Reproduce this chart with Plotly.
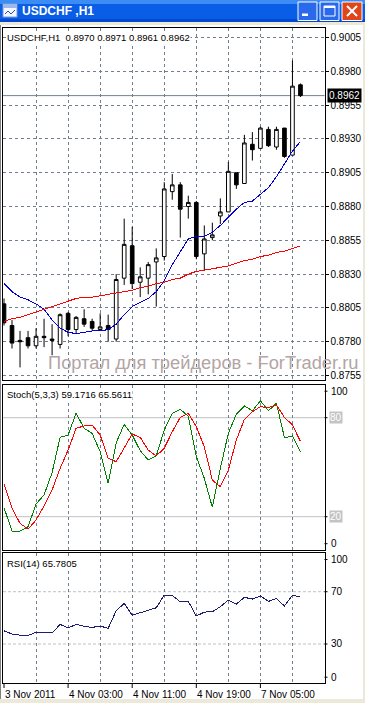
import plotly.graph_objects as go

W, H = 365, 703

# ---------------- data ----------------
bar_index = list(range(38))
opens = [0.8808, 0.8792, 0.8781, 0.8783, 0.8777, 0.8784, 0.8782, 0.8778, 0.8801, 0.8789,
         0.8797, 0.8795, 0.8789, 0.8792, 0.8782, 0.8827, 0.8851, 0.8824, 0.8827, 0.8839,
         0.8843, 0.8891, 0.8896, 0.8880, 0.8883, 0.8845, 0.8857, 0.8873, 0.8876, 0.8905,
         0.8897, 0.8926, 0.8923, 0.8937, 0.8924, 0.8938, 0.8918, 0.8970]
highs = [0.8812, 0.8796, 0.8788, 0.8788, 0.8790, 0.8797, 0.8793, 0.8801, 0.8802, 0.8799,
         0.8804, 0.8797, 0.8801, 0.8800, 0.8830, 0.8871, 0.8865, 0.8835, 0.8839, 0.8849,
         0.8898, 0.8904, 0.8898, 0.8888, 0.8884, 0.8866, 0.8868, 0.8886, 0.8913, 0.8905,
         0.8933, 0.8935, 0.8939, 0.8939, 0.8939, 0.8938, 0.8988, 0.8971]
lows = [0.8792, 0.8775, 0.8761, 0.8775, 0.8775, 0.8776, 0.8770, 0.8775, 0.8784, 0.8786,
        0.8791, 0.8788, 0.8788, 0.8780, 0.8780, 0.8822, 0.8819, 0.8813, 0.8815, 0.8806,
        0.8840, 0.8885, 0.8857, 0.8871, 0.8841, 0.8833, 0.8855, 0.8867, 0.8876, 0.8893,
        0.8897, 0.8914, 0.8923, 0.8924, 0.8922, 0.8916, 0.8918, 0.8961]
closes = [0.8794, 0.8779, 0.8780, 0.8777, 0.8784, 0.8783, 0.8781, 0.8800, 0.8789, 0.8798,
          0.8793, 0.8790, 0.8791, 0.8789, 0.8826, 0.8852, 0.8823, 0.8828, 0.8837, 0.8842,
          0.8893, 0.8896, 0.8878, 0.8883, 0.8843, 0.8856, 0.8859, 0.8876, 0.8906, 0.8896,
          0.8927, 0.8922, 0.8938, 0.8925, 0.8937, 0.8917, 0.8969, 0.8962]
ma_fast = [0.8823, 0.8817, 0.8813, 0.8811, 0.8808, 0.8804, 0.8796, 0.8790, 0.8787, 0.8786,
           0.8787, 0.8788, 0.8788, 0.8789, 0.8793, 0.8800, 0.8806, 0.8809, 0.8812, 0.8817,
           0.8825, 0.8837, 0.8847, 0.8856, 0.8858, 0.8858, 0.8861, 0.8866, 0.8872, 0.8878,
           0.8883, 0.8884, 0.8889, 0.8894, 0.8902, 0.8911, 0.8921, 0.8928]
ma_slow = [0.8795, 0.8797, 0.8798, 0.8800, 0.8802, 0.8804, 0.8806, 0.8808, 0.8810, 0.8812,
           0.8813, 0.8813, 0.8814, 0.8815, 0.8816, 0.8817, 0.8818, 0.8820, 0.8821, 0.8823,
           0.8824, 0.8826, 0.8827, 0.8830, 0.8832, 0.8833, 0.8834, 0.8835, 0.8836, 0.8838,
           0.8840, 0.8841, 0.8843, 0.8844, 0.8846, 0.8847, 0.8849, 0.8851]
stoch_main = [25.5, 11.3, 11.3, 13.9, 27.7, 33.2, 46.7, 68.1, 69.5, 82.7,
              73.6, 70.5, 59.4, 40.2, 64.8, 76.0, 69.5, 60.0, 54.4, 56.8,
              72.5, 82.7, 85.1, 81.0, 56.4, 43.3, 25.7, 49.3, 70.5, 82.2,
              87.1, 84.2, 90.3, 84.2, 88.7, 67.9, 68.9, 59.17]
stoch_signal = [39.6, 25.1, 16.0, 12.4, 18.0, 26.5, 36.2, 49.3, 60.4, 73.6,
                75.0, 75.6, 69.5, 55.4, 53.3, 61.5, 70.1, 68.1, 60.4, 56.8,
                61.5, 71.5, 80.2, 82.7, 74.5, 62.4, 42.2, 38.2, 48.3, 66.5,
                79.0, 83.6, 86.7, 86.1, 87.7, 80.2, 75.6, 65.56]
rsi = [40.1, 37.6, 36.8, 36.6, 38.9, 38.8, 38.4, 45.0, 42.2, 45.0,
       43.5, 42.7, 43.7, 42.0, 55.4, 61.1, 52.1, 53.9, 56.0, 57.7,
       67.4, 67.2, 62.3, 62.6, 51.4, 54.4, 54.7, 58.5, 63.6, 60.6,
       65.7, 64.4, 66.7, 62.6, 64.9, 59.0, 67.4, 65.78]
price_ticks = [0.9005, 0.8980, 0.8955, 0.8930, 0.8905, 0.8880, 0.8855, 0.8830, 0.8805, 0.8780, 0.8755]
grid_bars = [4, 8, 12, 16, 20, 24, 28, 32, 36]
time_label_bars = [0, 8, 16, 24, 32]
time_labels = ["3 Nov 2011", "4 Nov 03:00", "4 Nov 11:00", "4 Nov 19:00", "7 Nov 05:00"]
last_price = 0.8962
symbol_title = "USDCHF ,H1"
header_main = "USDCHF,H1\u00a0\u00a00.8970\u00a00.8971\u00a00.8961\u00a00.8962"
header_stoch = "Stoch(5,3,3) 59.1716 65.5611"
header_rsi = "RSI(14) 65.7805"
watermark = "Портал для трейдеров - ForTrader.ru"

# ---------------- helpers ----------------
def px(x):
    return x / W

def py(y):
    return 1 - y / H

FONT = "Liberation Sans"
GRID = "#6F7F8F"
XDOM = [px(3), px(324.5)]
XRANGE = [-0.125, 40]

fig = go.Figure()

fig.add_trace(go.Candlestick(
    x=bar_index, open=opens, high=highs, low=lows, close=closes,
    increasing=dict(line=dict(color="black", width=1), fillcolor="white"),
    decreasing=dict(line=dict(color="black", width=1), fillcolor="black"),
    whiskerwidth=0, hoverinfo="skip", xaxis="x", yaxis="y"))
fig.add_trace(go.Scatter(x=bar_index, y=ma_fast, mode="lines",
                         line=dict(color="#0000D0", width=1), xaxis="x", yaxis="y", hoverinfo="skip"))
fig.add_trace(go.Scatter(x=bar_index, y=ma_slow, mode="lines",
                         line=dict(color="#FF0000", width=1), xaxis="x", yaxis="y", hoverinfo="skip"))
fig.add_trace(go.Scatter(x=bar_index, y=stoch_main, mode="lines",
                         line=dict(color="#008000", width=1), xaxis="x2", yaxis="y2", hoverinfo="skip"))
fig.add_trace(go.Scatter(x=bar_index, y=stoch_signal, mode="lines",
                         line=dict(color="#FF0000", width=1), xaxis="x2", yaxis="y2", hoverinfo="skip"))
fig.add_trace(go.Scatter(x=bar_index, y=rsi, mode="lines",
                         line=dict(color="#1C1C70", width=1), xaxis="x3", yaxis="y3", hoverinfo="skip"))

xcommon = dict(domain=XDOM, range=XRANGE, tickvals=grid_bars, showticklabels=False, ticks="",
               showgrid=True, gridcolor=GRID, griddash="3px,3px", gridwidth=1,
               showline=True, mirror=True, linecolor="black", linewidth=1, zeroline=False,
               fixedrange=True, automargin=False)

fig.update_layout(
    width=W, height=H, autosize=False,
    margin=dict(l=0, r=0, t=0, b=0, pad=0, autoexpand=False),
    paper_bgcolor="white", plot_bgcolor="white",
    showlegend=False, boxgap=0.35,
    xaxis=dict(anchor="y", rangeslider=dict(visible=False), **xcommon),
    xaxis2=dict(anchor="y2", **xcommon),
    xaxis3=dict(anchor="y3", **xcommon),
    yaxis=dict(domain=[py(380), py(28)], range=[0.87517, 0.90120], side="right",
               tickvals=price_ticks, ticktext=[f"{v:.4f}" for v in price_ticks],
               ticks="outside", ticklen=3, tickcolor="black",
               tickfont=dict(family=FONT, size=10, color="black"),
               showgrid=True, gridcolor=GRID, griddash="3px,3px", gridwidth=1,
               showline=True, mirror=True, linecolor="black", zeroline=False, fixedrange=True,
               automargin=False),
    yaxis2=dict(domain=[py(549.7), py(384.7)], range=[0, 100], showticklabels=False, ticks="",
                showgrid=False, showline=True, mirror=True, linecolor="black", zeroline=False,
                fixedrange=True, automargin=False),
    yaxis3=dict(domain=[py(683.2), py(552.5)], range=[0, 100], showticklabels=False, ticks="",
                showgrid=False, showline=True, mirror=True, linecolor="black", zeroline=False,
                fixedrange=True, automargin=False),
)

shapes = []
ann = []

# ---- level lines ----
shapes.append(dict(type="line", xref="paper", yref="y", x0=XDOM[0], x1=XDOM[1], y0=last_price, y1=last_price,
                   line=dict(color="#708090", width=1), layer="below"))
for lv in (20, 80):
    shapes.append(dict(type="line", xref="paper", yref="y2", x0=XDOM[0], x1=XDOM[1], y0=lv, y1=lv,
                       line=dict(color="#C0C0C0", width=1), layer="below"))
for lv in (30, 70):
    shapes.append(dict(type="line", xref="paper", yref="y3", x0=XDOM[0], x1=px(327), y0=lv, y1=lv,
                       line=dict(color="#C0C0C0", width=1, dash="3px,2px"), layer="below"))

# ---- headers ----
def header(text, y):
    ann.append(dict(text=text, xref="paper", yref="paper", x=px(6), y=py(y), xanchor="left",
                    yanchor="middle", showarrow=False, bgcolor="white", borderpad=0,
                    font=dict(family=FONT, size=9.5, color="black")))

header(header_main, 37.5)
header(header_stoch, 395)
header(header_rsi, 563)

# watermark
ann.append(dict(text=watermark, xref="paper", yref="paper", x=px(46), y=py(362), xanchor="left",
                yanchor="middle", showarrow=False,
                font=dict(family=FONT, size=18.3, color="#B2A5A5")))

# current price label
ann.append(dict(text="0.8962", xref="paper", yref="y", x=px(326.5), y=last_price, xanchor="left",
                yanchor="middle", showarrow=False, bgcolor="black", borderpad=1,
                font=dict(family=FONT, size=10, color="white")))

# ---- subpanel right labels ----
def side_label(text, yref, val, shift, boxed=False):
    d = dict(text=text, xref="paper", yref=yref, x=px(329), y=val, xanchor="left", yanchor="middle",
             yshift=shift, showarrow=False, font=dict(family=FONT, size=10,
                                                         color="white" if boxed else "black"))
    if boxed:
        d["bgcolor"] = "#C4C4C4"
        d["borderpad"] = 0
    ann.append(d)
    shapes.append(dict(type="line", xref="paper", yref=yref, ysizemode="pixel", yanchor=val,
                       x0=px(324.5), x1=px(327.5), y0=shift, y1=shift,
                       line=dict(color="black", width=1)))

side_label("100", "y2", 100, -6.5)
side_label("80", "y2", 80, 0, boxed=True)
side_label("20", "y2", 20, 0, boxed=True)
side_label("0", "y2", 0, 6)
side_label("100", "y3", 100, -7)
side_label("70", "y3", 70, 0)
side_label("30", "y3", 30, 0)
side_label("0", "y3", 0, 6)

# ---- time axis ----
for b, t in zip(time_label_bars, time_labels):
    shapes.append(dict(type="line", xref="x3", yref="paper", x0=b, x1=b, y0=py(683.5), y1=py(688),
                       line=dict(color="black", width=1)))
    ann.append(dict(text=t, xref="x3", yref="paper", x=b, y=py(694), xanchor="left", yanchor="middle",
                    xshift=-1, showarrow=False, font=dict(family=FONT, size=10, color="black")))

# ---- window chrome ----
shapes.append(dict(type="rect", xref="paper", yref="paper", x0=0, x1=1, y0=py(22), y1=1,
                   fillcolor="#0A5DE6", line=dict(width=0), layer="above"))
shapes.append(dict(type="rect", xref="paper", yref="paper", x0=0, x1=1, y0=py(4), y1=1,
                   fillcolor="#3C8CF6", line=dict(width=0), layer="above"))
shapes.append(dict(type="rect", xref="paper", yref="paper", x0=0, x1=1, y0=py(22), y1=py(19),
                   fillcolor="#0349CF", line=dict(width=0), layer="above"))
shapes.append(dict(type="rect", xref="paper", yref="paper", x0=0, x1=1, y0=py(25), y1=py(22),
                   fillcolor="#ECE9D8", line=dict(width=0), layer="above"))
shapes.append(dict(type="rect", xref="paper", yref="paper", x0=0, x1=1, y0=0, y1=py(699),
                   fillcolor="#ECE9D8", line=dict(width=0), layer="above"))
shapes.append(dict(type="rect", xref="paper", yref="paper", x0=px(363), x1=1, y0=0, y1=py(22),
                   fillcolor="#ECE9D8", line=dict(width=0), layer="above"))
shapes.append(dict(type="line", xref="paper", yref="paper", x0=px(0.5), x1=px(0.5), y0=py(699), y1=py(25),
                   line=dict(color="#808080", width=1), layer="above"))
# icon
shapes.append(dict(type="rect", xref="paper", yref="paper", x0=px(3), x1=px(17), y0=py(17), y1=py(4),
                   fillcolor="#F4F7FF", line=dict(color="#7A9BD8", width=1), layer="above"))
shapes.append(dict(type="rect", xref="paper", yref="paper", x0=px(3), x1=px(17), y0=py(8), y1=py(4),
                   fillcolor="#9DB9EB", line=dict(width=0), layer="above"))
shapes.append(dict(type="path", xref="paper", yref="paper", layer="above",
                   path=f"M {px(5)} {py(14)} L {px(8)} {py(11)} L {px(11)} {py(14)} L {px(15)} {py(10)}",
                   line=dict(color="#2050B0", width=1)))
ann.append(dict(text=f"<b>{symbol_title}</b>", xref="paper", yref="paper", x=px(20), y=py(11.5),
                xanchor="left", yanchor="middle", showarrow=False,
                font=dict(family=FONT, size=12, color="white")))
# buttons
for x0, x1, fill in ((298, 317, "#2A68EC"), (320, 339, "#2A68EC"), (342, 362, "#E0461B")):
    shapes.append(dict(type="rect", xref="paper", yref="paper", x0=px(x0), x1=px(x1), y0=py(20.5), y1=py(2),
                       fillcolor=fill, line=dict(color="white", width=1), layer="above"))
shapes.append(dict(type="rect", xref="paper", yref="paper", x0=px(302), x1=px(308), y0=py(16), y1=py(13.5),
                   fillcolor="white", line=dict(width=0), layer="above"))
shapes.append(dict(type="rect", xref="paper", yref="paper", x0=px(324), x1=px(335), y0=py(16), y1=py(6),
                   fillcolor="rgba(0,0,0,0)", line=dict(color="white", width=1), layer="above"))
shapes.append(dict(type="rect", xref="paper", yref="paper", x0=px(324), x1=px(335), y0=py(8), y1=py(6),
                   fillcolor="white", line=dict(width=0), layer="above"))
shapes.append(dict(type="line", xref="paper", yref="paper", x0=px(347), x1=px(357), y0=py(6), y1=py(16),
                   line=dict(color="white", width=2), layer="above"))
shapes.append(dict(type="line", xref="paper", yref="paper", x0=px(357), x1=px(347), y0=py(6), y1=py(16),
                   line=dict(color="white", width=2), layer="above"))

fig.update_layout(shapes=shapes, annotations=ann)
fig.write_html("out.html", config={"displayModeBar": False, "responsive": False},
               post_script="document.body.style.margin='0px';document.body.style.padding='0px';"
                           "document.documentElement.style.overflow='hidden';"
                           "document.querySelectorAll('.scatterlayer path.js-line').forEach(function(p){"
                           "p.style.shapeRendering='crispEdges';});")
